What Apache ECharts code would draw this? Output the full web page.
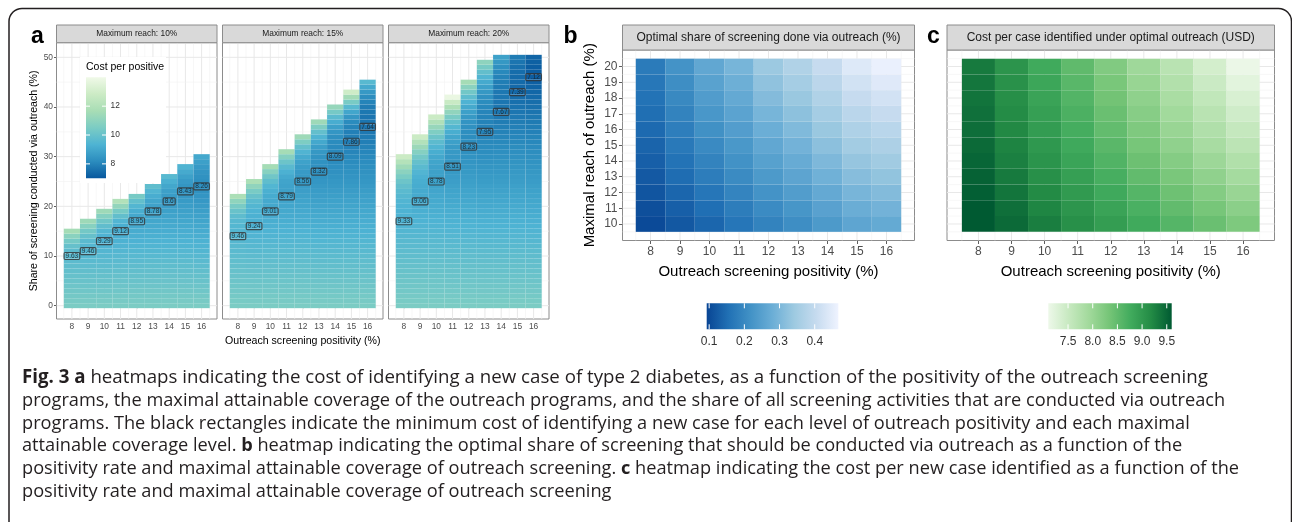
<!DOCTYPE html>
<html><head><meta charset="utf-8">
<script src="https://cdn.jsdelivr.net/npm/echarts@6.0.0/dist/echarts.min.js"></script>
<style>html,body{margin:0;padding:0;background:#fff;}#c{width:1292px;height:522px;}</style>
</head><body><div id="c"></div>
<script>
// ---------------- DATA ----------------
const positivity = [8, 9, 10, 11, 12, 13, 14, 15, 16];
const facetLabels = ['Maximum reach: 10%', 'Maximum reach: 15%', 'Maximum reach: 20%'];
// Cost per positive; one list per positivity level, list index = share of screening via outreach (%)
const costReach10 = [
[10.50,10.41,10.33,10.24,10.15,10.07,9.98,9.89,9.80,9.72,9.63,9.71,9.95,10.34,10.89,11.60],
[10.50,10.41,10.31,10.22,10.12,10.03,9.93,9.84,9.74,9.65,9.55,9.46,9.51,9.68,9.95,10.32,10.81,11.40],
[10.50,10.41,10.31,10.22,10.13,10.03,9.94,9.85,9.76,9.66,9.57,9.48,9.38,9.29,9.35,9.52,9.82,10.23,10.76,11.40],
[10.50,10.41,10.32,10.22,10.13,10.04,9.95,9.86,9.76,9.67,9.58,9.49,9.40,9.30,9.21,9.12,9.20,9.44,9.84,10.40,11.12,12.00],
[10.50,10.41,10.32,10.23,10.14,10.04,9.95,9.86,9.77,9.68,9.59,9.50,9.41,9.31,9.22,9.13,9.04,8.95,9.01,9.18,9.47,9.88,10.40],
[10.50,10.41,10.32,10.23,10.14,10.05,9.96,9.87,9.78,9.69,9.59,9.50,9.41,9.32,9.23,9.14,9.05,8.96,8.87,8.78,8.82,8.94,9.15,9.43,9.80],
[10.50,10.41,10.32,10.23,10.14,10.05,9.96,9.87,9.78,9.69,9.60,9.50,9.41,9.32,9.23,9.14,9.05,8.96,8.87,8.78,8.69,8.60,8.64,8.76,8.96,9.24,9.60],
[10.50,10.41,10.32,10.23,10.14,10.05,9.96,9.87,9.78,9.69,9.60,9.51,9.42,9.33,9.24,9.15,9.06,8.97,8.88,8.79,8.70,8.61,8.52,8.43,8.47,8.59,8.78,9.05,9.40],
[10.50,10.41,10.31,10.22,10.13,10.03,9.94,9.85,9.75,9.66,9.57,9.47,9.38,9.29,9.19,9.10,9.01,8.91,8.82,8.73,8.63,8.54,8.45,8.35,8.26,8.28,8.34,8.45,8.59,8.77,9.00]
];
const costReach15 = [
[10.50,10.43,10.35,10.28,10.20,10.13,10.05,9.98,9.91,9.83,9.76,9.68,9.61,9.53,9.46,9.46,9.50,9.58,9.75,10.03,10.45,11.03,11.80],
[10.50,10.42,10.34,10.26,10.19,10.11,10.03,9.95,9.87,9.79,9.71,9.63,9.56,9.48,9.40,9.32,9.24,9.24,9.27,9.34,9.47,9.68,10.00,10.45,11.04,11.80],
[10.50,10.42,10.34,10.26,10.19,10.11,10.03,9.95,9.87,9.79,9.72,9.64,9.56,9.48,9.40,9.32,9.25,9.17,9.09,9.01,9.01,9.04,9.11,9.24,9.45,9.78,10.23,10.83,11.60],
[10.50,10.42,10.34,10.27,10.19,10.11,10.03,9.96,9.88,9.80,9.72,9.64,9.57,9.49,9.41,9.33,9.26,9.18,9.10,9.02,8.95,8.87,8.79,8.79,8.82,8.89,9.04,9.27,9.62,10.11,10.76,11.60],
[10.50,10.42,10.34,10.27,10.19,10.11,10.03,9.96,9.88,9.80,9.72,9.65,9.57,9.49,9.41,9.34,9.26,9.18,9.10,9.03,8.95,8.87,8.79,8.72,8.64,8.56,8.56,8.59,8.67,8.81,9.05,9.40,9.90,10.55,11.40],
[10.50,10.42,10.34,10.26,10.18,10.10,10.02,9.93,9.85,9.77,9.69,9.61,9.53,9.45,9.37,9.29,9.21,9.13,9.05,8.97,8.89,8.80,8.72,8.64,8.56,8.48,8.40,8.32,8.32,8.35,8.40,8.52,8.71,8.99,9.38,9.90,10.57,11.40],
[10.50,10.42,10.34,10.26,10.18,10.10,10.02,9.94,9.86,9.78,9.70,9.62,9.54,9.46,9.38,9.30,9.21,9.13,9.05,8.97,8.89,8.81,8.73,8.65,8.57,8.49,8.41,8.33,8.25,8.17,8.09,8.09,8.12,8.17,8.29,8.48,8.76,9.16,9.68,10.36,11.20],
[10.50,10.42,10.34,10.26,10.18,10.10,10.02,9.94,9.86,9.78,9.70,9.62,9.54,9.46,9.38,9.30,9.22,9.14,9.06,8.98,8.90,8.82,8.74,8.66,8.58,8.50,8.42,8.34,8.26,8.18,8.10,8.02,7.94,7.86,7.87,7.90,8.00,8.18,8.49,8.95,9.59,10.44,11.53,12.90],
[10.50,10.42,10.34,10.26,10.18,10.10,10.02,9.94,9.86,9.79,9.71,9.63,9.55,9.47,9.39,9.31,9.23,9.15,9.07,8.99,8.91,8.83,8.75,8.67,8.59,8.51,8.44,8.36,8.28,8.20,8.12,8.04,7.96,7.88,7.80,7.72,7.64,7.64,7.66,7.71,7.81,7.98,8.22,8.56,9.02,9.60]
];
const costReach20 = [
[10.50,10.43,10.36,10.29,10.22,10.16,10.09,10.02,9.95,9.88,9.81,9.74,9.67,9.61,9.54,9.47,9.40,9.33,9.33,9.34,9.37,9.43,9.53,9.67,9.87,10.14,10.48,10.91,11.43,12.06,12.80],
[10.50,10.43,10.36,10.29,10.23,10.16,10.09,10.02,9.95,9.88,9.81,9.75,9.68,9.61,9.54,9.47,9.40,9.33,9.27,9.20,9.13,9.06,9.06,9.07,9.11,9.17,9.27,9.43,9.64,9.93,10.30,10.76,11.33,12.00,12.80],
[10.50,10.43,10.36,10.29,10.22,10.16,10.09,10.02,9.95,9.88,9.81,9.74,9.67,9.61,9.54,9.47,9.40,9.33,9.26,9.19,9.12,9.06,8.99,8.92,8.85,8.78,8.78,8.80,8.83,8.90,9.01,9.18,9.41,9.72,10.11,10.61,11.22,11.94,12.80],
[10.50,10.43,10.36,10.29,10.22,10.14,10.07,10.00,9.93,9.86,9.79,9.72,9.65,9.58,9.51,9.43,9.36,9.29,9.22,9.15,9.08,9.01,8.94,8.87,8.79,8.72,8.65,8.58,8.51,8.51,8.53,8.56,8.63,8.75,8.93,9.17,9.50,9.92,10.44,11.08,11.84,12.75,13.80],
[10.50,10.43,10.36,10.29,10.22,10.15,10.07,10.00,9.93,9.86,9.79,9.72,9.65,9.58,9.51,9.44,9.36,9.29,9.22,9.15,9.08,9.01,8.94,8.87,8.80,8.73,8.66,8.58,8.51,8.44,8.37,8.30,8.23,8.23,8.24,8.27,8.33,8.42,8.56,8.76,9.02,9.35,9.76,10.27,10.88,11.60],
[10.50,10.43,10.35,10.28,10.21,10.14,10.06,9.99,9.92,9.84,9.77,9.70,9.63,9.55,9.48,9.41,9.33,9.26,9.19,9.12,9.04,8.97,8.90,8.82,8.75,8.68,8.61,8.53,8.46,8.39,8.31,8.24,8.17,8.10,8.02,7.95,7.95,7.96,7.98,8.02,8.09,8.19,8.33,8.52,8.76,9.06,9.43,9.87,10.39,11.00],
[10.50,10.43,10.35,10.28,10.21,10.14,10.06,9.99,9.92,9.85,9.77,9.70,9.63,9.56,9.48,9.41,9.34,9.27,9.19,9.12,9.05,8.98,8.90,8.83,8.76,8.69,8.61,8.54,8.47,8.40,8.32,8.25,8.18,8.11,8.03,7.96,7.89,7.82,7.74,7.67,7.67,7.68,7.69,7.72,7.78,7.85,7.96,8.10,8.29,8.52,8.80],
[10.50,10.43,10.36,10.28,10.21,10.14,10.07,9.99,9.92,9.85,9.78,9.70,9.63,9.56,9.49,9.41,9.34,9.27,9.20,9.13,9.05,8.98,8.91,8.84,8.76,8.69,8.62,8.55,8.47,8.40,8.33,8.26,8.19,8.11,8.04,7.97,7.90,7.82,7.75,7.68,7.61,7.53,7.46,7.39,7.39,7.40,7.42,7.47,7.54,7.65,7.80],
[10.50,10.43,10.35,10.28,10.21,10.13,10.06,9.99,9.91,9.84,9.77,9.69,9.62,9.54,9.47,9.40,9.32,9.25,9.18,9.10,9.03,8.96,8.88,8.81,8.74,8.66,8.59,8.52,8.44,8.37,8.30,8.22,8.15,8.08,8.00,7.93,7.85,7.78,7.71,7.63,7.56,7.49,7.41,7.34,7.27,7.19,7.12,7.12,7.14,7.20,7.30]
];
// minimum cost (black rectangles) and the share at which it occurs
const optShare10 = [10, 11, 13, 15, 17, 19, 21, 23, 24];
const optCost10  = [9.63, 9.46, 9.29, 9.12, 8.95, 8.78, 8.6, 8.43, 8.26];
const optShare15 = [14, 16, 19, 22, 25, 27, 30, 33, 36];
const optCost15  = [9.46, 9.24, 9.01, 8.79, 8.56, 8.32, 8.09, 7.86, 7.64];
const optShare20 = [17, 21, 25, 28, 32, 35, 39, 43, 46];
const optCost20  = [9.33, 9.06, 8.78, 8.51, 8.23, 7.95, 7.67, 7.39, 7.12];
// panel b / c: rows = maximal reach 10..20, columns = positivity 8..16
const reachLevels = [10, 11, 12, 13, 14, 15, 16, 17, 18, 19, 20];
const optimalShare = [
[0.100,0.120,0.140,0.165,0.190,0.210,0.235,0.260,0.270],
[0.107,0.130,0.153,0.178,0.205,0.226,0.252,0.278,0.290],
[0.115,0.140,0.165,0.191,0.220,0.242,0.269,0.296,0.309],
[0.122,0.150,0.178,0.204,0.235,0.258,0.286,0.314,0.328],
[0.130,0.160,0.190,0.217,0.250,0.274,0.303,0.332,0.347],
[0.137,0.170,0.203,0.230,0.265,0.290,0.320,0.350,0.366],
[0.145,0.180,0.215,0.243,0.280,0.306,0.337,0.368,0.385],
[0.152,0.190,0.228,0.256,0.295,0.322,0.354,0.386,0.404],
[0.160,0.200,0.240,0.269,0.310,0.338,0.371,0.404,0.423],
[0.167,0.210,0.253,0.282,0.325,0.354,0.388,0.422,0.442],
[0.175,0.220,0.265,0.295,0.340,0.370,0.405,0.440,0.460]
];
const optimalCost = [
[9.63,9.46,9.29,9.12,8.95,8.78,8.60,8.43,8.26],
[9.60,9.42,9.23,9.05,8.87,8.69,8.50,8.32,8.14],
[9.56,9.37,9.18,8.99,8.79,8.60,8.40,8.20,8.01],
[9.53,9.33,9.12,8.92,8.72,8.50,8.29,8.09,7.89],
[9.50,9.28,9.07,8.86,8.64,8.41,8.19,7.97,7.76],
[9.46,9.24,9.01,8.79,8.56,8.32,8.09,7.86,7.64],
[9.43,9.20,8.96,8.73,8.49,8.25,8.01,7.77,7.54],
[9.41,9.17,8.92,8.68,8.43,8.17,7.92,7.67,7.43],
[9.38,9.13,8.87,8.62,8.36,8.10,7.84,7.58,7.33],
[9.36,9.10,8.83,8.57,8.30,8.02,7.75,7.48,7.22],
[9.33,9.06,8.78,8.51,8.23,7.95,7.67,7.39,7.12]
];
// axis ticks / legend ticks
const ticksShare = [0, 10, 20, 30, 40, 50];
const minorShare = [5, 15, 25, 35, 45];
const minorPos = [7.5, 8.5, 9.5, 10.5, 11.5, 12.5, 13.5, 14.5, 15.5, 16.5];
const minorReach = [9.5, 10.5, 11.5, 12.5, 13.5, 14.5, 15.5, 16.5, 17.5, 18.5, 19.5, 20.5];
const legendTicksA = [8, 10, 12];
const legendTicksB = [0.1, 0.2, 0.3, 0.4];
const legendTicksC = [7.5, 8.0, 8.5, 9.0, 9.5];
const rangeA = [7.0, 14.0], rangeB = [0.093, 0.467], rangeC = [7.1, 9.6];
const captionLines = [
 '{b|Fig. 3 a} heatmaps indicating the cost of identifying a new case of type 2 diabetes, as a function of the positivity of the outreach screening',
 'programs, the maximal attainable coverage of the outreach programs, and the share of all screening activities that are conducted via outreach',
 'programs. The black rectangles indicate the minimum cost of identifying a new case for each level of outreach positivity and each maximal',
 'attainable coverage level. {b|b} heatmap indicating the optimal share of screening that should be conducted via outreach as a function of the',
 'positivity rate and maximal attainable coverage of outreach screening. {b|c} heatmap indicating the cost per new case identified as a function of the',
 'positivity rate and maximal attainable coverage of outreach screening'
];

// ---------------- STYLE / LAYOUT ----------------
const FONT = 'Liberation Sans, Arial, Helvetica, sans-serif';
const CAPFONT = 'Open Sans, Noto Sans, sans-serif';
const GNBU = ['#08589E','#2B8CBE','#4EB3D3','#7BCCC4','#A8DDB5','#CCEBC5','#F0F9E8'];
const BLUES = ['#084594','#2171B5','#4292C6','#6BAED6','#9ECAE1','#C6DBEF','#EFF3FF'];
const GREENS = ['#EDF8E9','#C7E9C0','#A1D99B','#74C476','#41AB5D','#238B45','#005A32'];
const facetLeft = [56.5, 222.5, 388.5], facetW = 160.5, facetTop = 42.7, facetH = 276.3;
const axA = {x: [7.05, 16.95], y: [-2.68, 52.94]};
const gB = {left: 622.5, top: 50, width: 292, height: 190.5};
const gC = {left: 947, top: 50, width: 327.5, height: 190.5};
const axBC = {x: [7.05, 16.95], y: [8.95, 21.05]};
const BORDER = '#8c8c8c';

const costFacets = [costReach10, costReach15, costReach20];
const optShares = [optShare10, optShare15, optShare20];
const optCosts = [optCost10, optCost15, optCost20];

function tiles(cols) {
  const out = [];
  cols.forEach((col, k) => col.forEach((v, s) => out.push([positivity[k], s, v])));
  return out;
}
function matrixTiles(m) {
  const out = [];
  reachLevels.forEach((r, i) => positivity.forEach((p, k) => out.push([p, r, m[i][k]])));
  return out;
}
function renderTile(params, api) {
  const x = api.value(0), y = api.value(1);
  const a = api.coord([x - 0.5, y + 0.5]), b = api.coord([x + 0.5, y - 0.5]);
  return {type: 'rect', shape: {x: a[0], y: a[1], width: b[0] - a[0], height: b[1] - a[1]},
          style: {fill: api.visual('color')}};
}
function gridLines(gi, xr, yr, xMaj, xMin, yMaj, yMin) {
  const data = [];
  xMaj.forEach(v => data.push([v, 0, 0])); xMin.forEach(v => data.push([v, 0, 1]));
  yMaj.forEach(v => data.push([v, 1, 0])); yMin.forEach(v => data.push([v, 1, 1]));
  return {type: 'custom', xAxisIndex: gi, yAxisIndex: gi, z: 1, silent: true, data,
    encode: {x: 0, y: 1},
    renderItem: (params, api) => {
      const v = api.value(0), dir = api.value(1), minor = api.value(2);
      const p1 = dir === 0 ? api.coord([v, yr[0]]) : api.coord([xr[0], v]);
      const p2 = dir === 0 ? api.coord([v, yr[1]]) : api.coord([xr[1], v]);
      return {type: 'line', shape: {x1: p1[0], y1: p1[1], x2: p2[0], y2: p2[1]},
              style: {stroke: minor ? '#f2f2f2' : '#e8e8e8', lineWidth: minor ? 0.6 : 1}};
    }};
}
function valAxis(gi, range, ticks, fs, margin, tickLen, show) {
  return {type: 'value', gridIndex: gi, min: range[0], max: range[1],
    axisLine: {show: false}, splitLine: {show: false},
    axisTick: {show: show, length: tickLen, customValues: ticks, lineStyle: {color: '#333', width: 0.8}},
    axisLabel: {show: show, customValues: ticks, fontSize: fs, color: '#4d4d4d', fontFamily: FONT, margin: margin}};
}

const grids = [];
facetLeft.forEach(l => grids.push({left: l, top: facetTop, width: facetW, height: facetH}));
grids.push(gB, gC);
grids.forEach(g => Object.assign(g, {show: true, borderColor: BORDER, borderWidth: 1,
  backgroundColor: 'transparent', containLabel: false, outerBoundsMode: 'none'}));

const xAxes = [], yAxes = [];
for (let i = 0; i < 3; i++) {
  xAxes.push(valAxis(i, axA.x, positivity, 8.4, 3.5, 2.5, true));
  yAxes.push(valAxis(i, axA.y, ticksShare, 8.4, 3.5, 2.5, i === 0));
}
xAxes.push(valAxis(3, axBC.x, positivity, 12, 5, 3.5, true));
yAxes.push(valAxis(3, axBC.y, reachLevels, 12, 5, 3.5, true));
xAxes.push(valAxis(4, axBC.x, positivity, 12, 5, 3.5, true));
yAxes.push(valAxis(4, axBC.y, reachLevels, 12, 5, 3.5, false));

const series = [];
for (let i = 0; i < 3; i++) series.push({type: 'custom', xAxisIndex: i, yAxisIndex: i, z: 2, silent: true,
  encode: {x: 0, y: 1}, data: tiles(costFacets[i]), renderItem: renderTile});
series.push({type: 'custom', xAxisIndex: 3, yAxisIndex: 3, z: 2, silent: true, encode: {x: 0, y: 1},
  data: matrixTiles(optimalShare), renderItem: renderTile});
series.push({type: 'custom', xAxisIndex: 4, yAxisIndex: 4, z: 2, silent: true, encode: {x: 0, y: 1},
  data: matrixTiles(optimalCost), renderItem: renderTile});
for (let i = 0; i < 3; i++) series.push(gridLines(i, axA.x, axA.y, positivity, minorPos, ticksShare, minorShare));
series.push(gridLines(3, axBC.x, axBC.y, positivity, minorPos, reachLevels, minorReach));
series.push(gridLines(4, axBC.x, axBC.y, positivity, minorPos, reachLevels, minorReach));
for (let i = 0; i < 3; i++) series.push({type: 'scatter', xAxisIndex: i, yAxisIndex: i, z: 5, silent: true,
  symbolSize: 1, itemStyle: {color: 'transparent'},
  data: positivity.map((p, k) => [p, optShares[i][k], optCosts[i][k]]),
  label: {show: true, position: 'inside', formatter: p => String(p.value[2]), fontSize: 6.5, lineHeight: 6.5,
    fontFamily: FONT, color: '#1a1a1a', borderColor: '#333', borderWidth: 0.6, borderRadius: 1.2,
    padding: [0.5, 1.5, 0, 1.5], backgroundColor: 'transparent'}});

// ---------------- GRAPHIC (frame, strips, titles, legends, caption) ----------------
const G = [];
function text(x, y, t, o) {
  return Object.assign({type: 'text', x: x, y: y, z: 20, silent: true,
    style: Object.assign({text: t, fill: '#1a1a1a', fontSize: 12, fontFamily: FONT, align: 'center', verticalAlign: 'middle'}, o || {})});
}
G.push({type: 'rect', z: 20, silent: true, shape: {x: 9, y: 8.5, width: 1282.5, height: 700, r: 13},
  style: {fill: 'none', stroke: '#231f20', lineWidth: 1.5}});
facetLeft.forEach((l, i) => {
  G.push({type: 'rect', z: 15, silent: true, shape: {x: l, y: 25, width: facetW, height: facetTop - 25},
    style: {fill: '#d9d9d9', stroke: BORDER, lineWidth: 1}});
  G.push(text(l + facetW / 2, (25 + facetTop) / 2, facetLabels[i], {fontSize: 8.4}));
});
[[gB, 'Optimal share of screening done via outreach (%)'], [gC, 'Cost per case identified under optimal outreach (USD)']].forEach(([g, t]) => {
  G.push({type: 'rect', z: 15, silent: true, shape: {x: g.left, y: 25, width: g.width, height: 25},
    style: {fill: '#d9d9d9', stroke: BORDER, lineWidth: 1}});
  G.push(text(g.left + g.width / 2, 37.5, t, {fontSize: 12}));
});
// panel letters
G.push(text(37.5, 36.5, 'a', {fontSize: 23, fontWeight: 'bold', fill: '#000'}));
G.push(text(570.5, 36.5, 'b', {fontSize: 23, fontWeight: 'bold', fill: '#000'}));
G.push(text(933.5, 36.5, 'c', {fontSize: 23, fontWeight: 'bold', fill: '#000'}));
// axis titles
G.push(text(facetLeft[1] + facetW / 2, 341.5, 'Outreach screening positivity (%)', {fontSize: 10.6, fill: '#000'}));
G.push(Object.assign(text(34, facetTop + facetH / 2, 'Share of screening conducted via outreach (%)', {fontSize: 10.6, fill: '#000'}), {rotation: Math.PI / 2}));
G.push(text(gB.left + gB.width / 2, 272, 'Outreach screening positivity (%)', {fontSize: 15, fill: '#000'}));
G.push(text(gC.left + gC.width / 2, 272, 'Outreach screening positivity (%)', {fontSize: 15, fill: '#000'}));
G.push(Object.assign(text(590, gB.top + gB.height / 2, 'Maximal reach of outreach (%)', {fontSize: 15, fill: '#000'}), {rotation: Math.PI / 2}));
// legend a (inside facet 1)
G.push({type: 'rect', z: 1.5, silent: true, shape: {x: 80, y: 57, width: 86, height: 126}, style: {fill: '#fff'}});
G.push(text(86, 67.5, 'Cost per positive', {fontSize: 10.5, align: 'left', fill: '#000'}));
const lA = {x: 86, y: 77.3, w: 20, h: 101};
G.push({type: 'rect', z: 16, silent: true, shape: {x: lA.x, y: lA.y, width: lA.w, height: lA.h},
  style: {fill: new echarts.graphic.LinearGradient(0, 1, 0, 0, GNBU.map((c, i) => ({offset: i / (GNBU.length - 1), color: c})))}});
legendTicksA.forEach(v => {
  const y = lA.y + lA.h - (v - rangeA[0]) / (rangeA[1] - rangeA[0]) * lA.h;
  G.push({type: 'line', z: 17, silent: true, shape: {x1: lA.x, y1: y, x2: lA.x + 4, y2: y}, style: {stroke: '#fff', lineWidth: 1}});
  G.push({type: 'line', z: 17, silent: true, shape: {x1: lA.x + lA.w - 4, y1: y, x2: lA.x + lA.w, y2: y}, style: {stroke: '#fff', lineWidth: 1}});
  G.push(text(lA.x + lA.w + 4.5, y, String(v), {fontSize: 8.4, align: 'left', fill: '#333'}));
});
// legends b and c (horizontal)
function hLegend(x, w, colors, range, ticks, fmt) {
  const y = 303.3, h = 26;
  G.push({type: 'rect', z: 16, silent: true, shape: {x: x, y: y, width: w, height: h},
    style: {fill: new echarts.graphic.LinearGradient(0, 0, 1, 0, colors.map((c, i) => ({offset: i / (colors.length - 1), color: c})))}});
  ticks.forEach(v => {
    const tx = x + (v - range[0]) / (range[1] - range[0]) * w;
    G.push({type: 'line', z: 17, silent: true, shape: {x1: tx, y1: y, x2: tx, y2: y + 5}, style: {stroke: '#fff', lineWidth: 1}});
    G.push({type: 'line', z: 17, silent: true, shape: {x1: tx, y1: y + h - 5, x2: tx, y2: y + h}, style: {stroke: '#fff', lineWidth: 1}});
    G.push(text(tx, 342, fmt(v), {fontSize: 12, fill: '#333'}));
  });
}
hLegend(706.7, 131.6, BLUES, rangeB, legendTicksB, v => v.toFixed(1));
hLegend(1048.3, 123.4, GREENS, rangeC, legendTicksC, v => v.toFixed(1));
// caption
const capY = [378, 400.7, 423.4, 446.1, 468.8, 491.5];
const capSize = [18.7, 18.2, 18.2, 18.2, 18.2, 18.2];
captionLines.forEach((t, i) => G.push(text(22, capY[i], t, {fontSize: capSize[i], fontFamily: CAPFONT,
  align: 'left', fill: '#231f20', rich: {b: {fontWeight: 'bold', fontSize: capSize[i], fontFamily: CAPFONT, fill: '#231f20'}}})));

const option = {
  animation: false,
  backgroundColor: '#fff',
  grid: grids, xAxis: xAxes, yAxis: yAxes,
  visualMap: [
    {type: 'continuous', show: false, min: rangeA[0], max: rangeA[1], dimension: 2, seriesIndex: [0, 1, 2], inRange: {color: GNBU}},
    {type: 'continuous', show: false, min: rangeB[0], max: rangeB[1], dimension: 2, seriesIndex: [3], inRange: {color: BLUES}},
    {type: 'continuous', show: false, min: rangeC[0], max: rangeC[1], dimension: 2, seriesIndex: [4], inRange: {color: GREENS}}
  ],
  series: series,
  graphic: {elements: G}
};
const chart = echarts.init(document.getElementById('c'), null, {renderer: 'canvas'});
chart.setOption(option);
</script></body></html>
